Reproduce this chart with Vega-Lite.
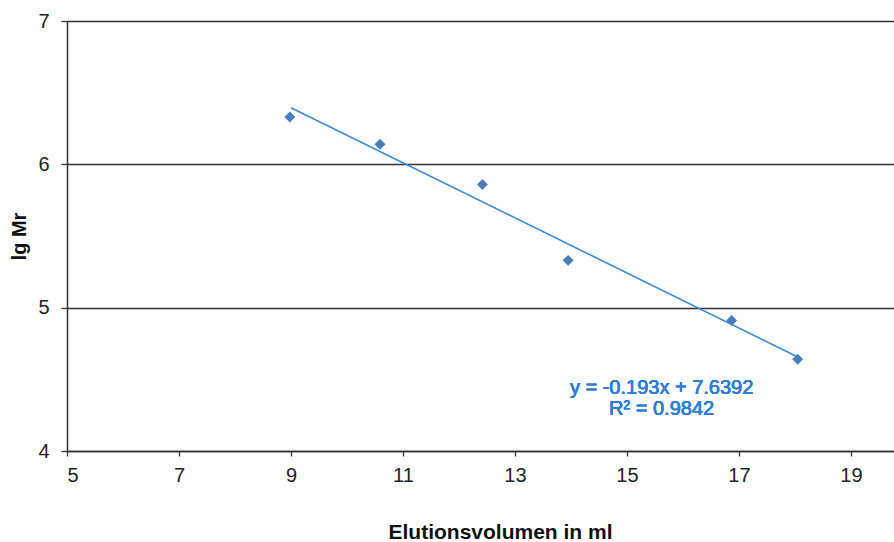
{
  "$schema": "https://vega.github.io/schema/vega-lite/v6.json",
  "autosize": "none",
  "padding": {"left": 67, "top": 21, "right": 0, "bottom": 91},
  "width": 827,
  "height": 430,
  "background": "white",
  "config": {
    "view": {"stroke": null},
    "font": "Liberation Sans",
    "axis": {"labelFont": "Liberation Sans", "titleFont": "Liberation Sans", "labelColor": "#222", "titleColor": "#111", "labelFontSize": 20, "titleFontSize": 21}
  },
  "data": {"values": [
    {"vol": 8.98, "lgMr": 6.33},
    {"vol": 10.59, "lgMr": 6.14},
    {"vol": 12.42, "lgMr": 5.86},
    {"vol": 13.95, "lgMr": 5.33},
    {"vol": 16.87, "lgMr": 4.91},
    {"vol": 18.05, "lgMr": 4.64}
  ]},
  "encoding": {
    "x": {"field": "vol", "type": "quantitative",
          "scale": {"domain": [5, 19.77], "nice": false, "zero": false},
          "axis": {"values": [5, 7, 9, 11, 13, 15, 17, 19], "format": "d", "grid": false,
                   "domainColor": "#333", "domainWidth": 1.5, "tickColor": "#333", "tickWidth": 1.3, "tickSize": 5,
                   "labelFontSize": 20, "labelPadding": 9,
                   "title": "Elutionsvolumen in ml", "titleFontSize": 21, "titleFontWeight": "bold",
                   "titleX": 433, "titleY": 81, "titleBaseline": "middle"}},
    "y": {"field": "lgMr", "type": "quantitative",
          "scale": {"domain": [4, 7], "nice": false, "zero": false},
          "axis": {"values": [4, 5, 6, 7], "format": "d", "grid": true, "gridColor": "#333", "gridWidth": 1.5, "gridOpacity": 1,
                   "domainColor": "#333", "domainWidth": 1.5, "tickColor": "#333", "tickWidth": 1.3, "tickSize": 6,
                   "labelFontSize": 20, "labelPadding": 12,
                   "title": "lg Mr", "titleFontSize": 20, "titleFontWeight": "bold", "titlePadding": 8}}
  },
  "layer": [
    {
      "mark": {"type": "line", "color": "#3a8ad4", "strokeWidth": 1.6, "clip": true},
      "transform": [{"regression": "lgMr", "on": "vol", "extent": [9, 18.07]}]
    },
    {
      "mark": {"type": "point", "shape": "diamond", "filled": true, "size": 120, "color": "#4a7ebb", "opacity": 1}
    },
    {
      "mark": {"type": "text", "align": "center", "baseline": "middle", "fontSize": 20, "fontWeight": "normal", "color": "#2f7ed8",
               "lineBreak": "\n", "lineHeight": 21, "text": "y = -0.193x + 7.6392\nR² = 0.9842"},
      "encoding": {
        "x": {"datum": 15.62},
        "y": {"datum": 4.44}
      }
    }
  ]
}
